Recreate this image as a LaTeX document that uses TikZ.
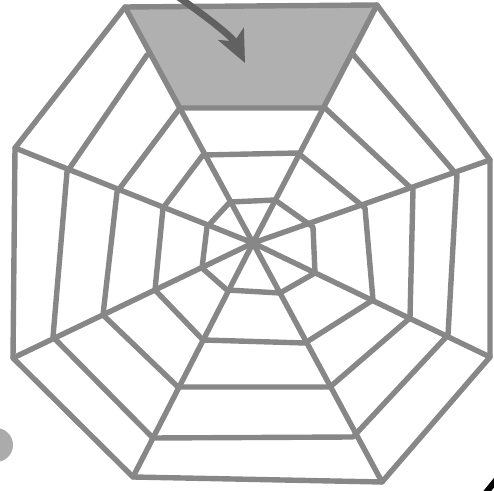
\documentclass[tikz,border=0pt]{standalone}
\usepackage{xcolor}
\usetikzlibrary{arrows.meta}

\begin{document}
\begin{tikzpicture}[
  x=0.5pt,y=-0.5pt,
  thread/.style={draw=black!47,line width=2.7pt,line join=round,line cap=round},
  patch/.style={fill=black!31},
  pointer/.style={-{Stealth[length=16pt,width=14pt,inset=4pt]},
                  line width=3.4pt,draw=black!62},
  blob/.style={fill=black!33}
]
\useasboundingbox (0,0) rectangle (494,491);
% spokes a..h clockwise from top left, rings 1..5 outward
\coordinate (hub) at (253,243);
\coordinate (a1) at (230,202); \coordinate (a2) at (203,155); \coordinate (a3) at (180,108);
\coordinate (a4) at (147,55);  \coordinate (a5) at (125,7);
\coordinate (b1) at (275,200); \coordinate (b2) at (298,153); \coordinate (b3) at (325,108);
\coordinate (b4) at (352,53);  \coordinate (b5) at (377,5);
\coordinate (c1) at (313,227); \coordinate (c2) at (365,208); \coordinate (c3) at (413,190);
\coordinate (c4) at (457,175); \coordinate (c5) at (490,160);
\coordinate (d1) at (315,273); \coordinate (d2) at (373,300); \coordinate (d3) at (410,318);
\coordinate (d4) at (448,335); \coordinate (d5) at (490,357);
\coordinate (e1) at (280,293); \coordinate (e2) at (305,343); \coordinate (e3) at (330,387);
\coordinate (e4) at (353,437); \coordinate (e5) at (382,482);
\coordinate (f1) at (227,290); \coordinate (f2) at (203,340); \coordinate (f3) at (178,387);
\coordinate (f4) at (153,438); \coordinate (f5) at (133,477);
\coordinate (g1) at (202,268); \coordinate (g2) at (155,290); \coordinate (g3) at (103,315);
\coordinate (g4) at (53,337);  \coordinate (g5) at (13,358);
\coordinate (h1) at (207,227); \coordinate (h2) at (163,208); \coordinate (h3) at (117,192);
\coordinate (h4) at (67,172);  \coordinate (h5) at (15,148);

\fill[patch] (a3) -- (b3) -- (b5) -- (a5) -- cycle;
\foreach \s in {a,b,c,d,e,f,g,h}
  \draw[thread] (hub) -- (\s5);
\foreach \r in {1,2,3,5}
  \draw[thread] (a\r) -- (b\r) -- (c\r) -- (d\r) -- (e\r) -- (f\r) -- (g\r) -- (h\r) -- cycle;
\draw[thread] (b4) -- (c4) -- (d4) -- (e4) -- (f4) -- (g4) -- (h4) -- (a4);

\coordinate (tail) at (174,-6);
\coordinate (tip) at (245,63);
\draw[pointer] (tail) .. controls (200,12) and (232,36) .. (tip);

\fill[blob] (-4,445) circle [radius=8.5pt];
\draw[line width=3pt] (484,495) -- (497,479);
\end{tikzpicture}
\end{document}
